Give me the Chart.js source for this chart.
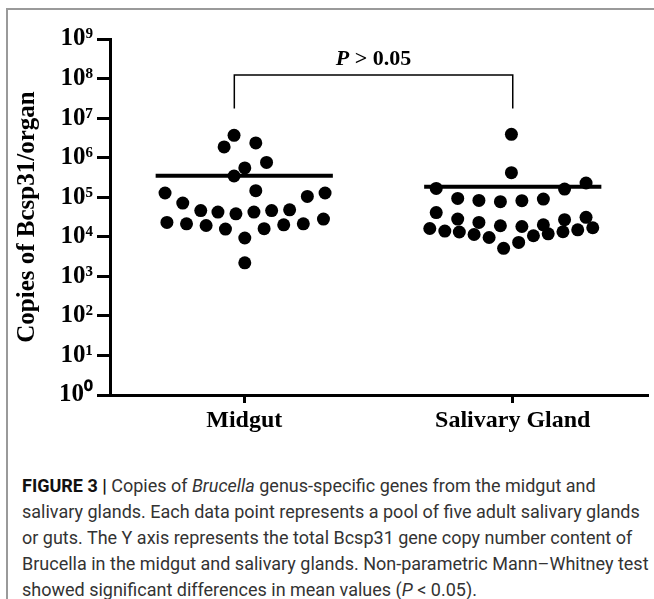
<!DOCTYPE html>
<html>
<head>
<meta charset="utf-8">
<script src="https://cdn.jsdelivr.net/npm/chart.js@4.4.1/dist/chart.umd.min.js"></script>
<style>
    html, body { margin: 0; padding: 0; background: #fff; }
    body { width: 654px; height: 599px; position: relative; overflow: hidden; }
    #frame {
        position: absolute; left: 6px; top: 8px; width: 700px; height: 700px;
        border-top: 2px solid #9a9a9a; border-left: 2px solid #9a9a9a;
    }
    #chartBox { position: absolute; left: 0; top: 0; width: 654px; height: 445px; }
    #caption {
        position: absolute; left: 22px; top: 473px; width: 630px;
        font-family: Roboto, 'Liberation Sans', sans-serif; font-size: 18px;
        line-height: 26px; color: #333; white-space: nowrap;
    }
    #caption b { font-weight: 700; color: #111; }
</style>
</head>
<body>
<div id="frame"></div>
<div id="chartBox"><canvas id="dotChart" width="654" height="445"></canvas></div>
<div id="caption">
    <b>FIGURE 3 |</b> Copies of <i>Brucella</i> genus-specific genes from the midgut and<br>
    salivary glands. Each data point represents a pool of five adult salivary glands<br>
    or guts. The Y axis represents the total Bcsp31 gene copy number content of<br>
    Brucella in the midgut and salivary glands. Non-parametric Mann–Whitney test<br>
    showed significant differences in mean values (<i>P</i> &lt; 0.05).
</div>
<script>
// groups on the x axis
var categories = ['Midgut', 'Salivary Gland'];
var yTickValues = [1, 1e1, 1e2, 1e3, 1e4, 1e5, 1e6, 1e7, 1e8, 1e9];

// midgut pools: horizontal spread (in category units) and copies
var midgutX = [-0.038, -0.075, 0.043, 0.083, 0.002, -0.038, 0.043, -0.295, -0.229, -0.162,
    -0.098, -0.031, 0.036, 0.102, 0.169, 0.235, 0.301, -0.288, -0.215, -0.142,
    -0.070, 0.002, 0.074, 0.147, 0.220, 0.295, 0.002];
var midgutY = [3.67e6, 1.87e6, 2.36e6, 7.6e5, 5.5e5, 3.44e5, 1.46e5, 1.28e5, 7.1e4, 4.6e4,
    4.2e4, 3.8e4, 4.2e4, 4.6e4, 4.8e4, 1.05e5, 1.28e5, 2.3e4, 2.13e4, 1.93e4,
    1.57e4, 9.3e3, 1.6e4, 2.0e4, 2.13e4, 2.8e4, 2.2e3];

// salivary gland pools
var salivaryX = [-0.005, -0.005, -0.285, 0.193, 0.273, -0.205, -0.126, -0.046, 0.034, 0.114,
    -0.285, -0.205, -0.126, -0.046, 0.034, 0.114, 0.193, 0.273, -0.309, -0.253,
    -0.199, -0.144, -0.088, -0.034, 0.022, 0.077, 0.132, 0.187, 0.242, 0.298];
var salivaryY = [3.89e6, 4.17e5, 1.67e5, 1.61e5, 2.29e5, 9.3e4, 8.3e4, 7.7e4, 8.2e4, 9.0e4,
    4.1e4, 2.8e4, 2.3e4, 1.9e4, 1.82e4, 2.0e4, 2.7e4, 3.1e4, 1.62e4, 1.39e4,
    1.32e4, 1.14e4, 9.6e3, 5.1e3, 7.2e3, 1.06e4, 1.19e4, 1.34e4, 1.5e4, 1.69e4];

// mean of each group and the half width of its mean bar
var meanValues = [3.5e5, 1.85e5];
var meanHalfWidth = 0.33;

// significance bracket
var bracketX = [-0.037, 1.0];
var bracketTop = 1.23e8;
var bracketBottom = 1.74e7;
var pValueLabel = ['P', ' > 0.05'];

var superDigits = '⁰¹²³⁴⁵⁶⁷⁸⁹';
var serif = "'Liberation Serif', 'Times New Roman', serif";

Chart.defaults.font.family = serif;
Chart.defaults.color = '#000';

function toPoints(offsets, values, center) {
    return values.map(function (v, i) { return { x: center + offsets[i], y: v }; });
}

var bracketPlugin = {
    id: 'bracket',
    afterDatasetsDraw: function (chart) {
        var ctx = chart.ctx;
        var xs = chart.scales.x, ys = chart.scales.y;
        var x1 = xs.getPixelForValue(bracketX[0]);
        var x2 = xs.getPixelForValue(bracketX[1]);
        var yTop = ys.getPixelForValue(bracketTop);
        var yBot = ys.getPixelForValue(bracketBottom);
        ctx.save();
        ctx.strokeStyle = '#000';
        ctx.lineWidth = 1.5;
        ctx.beginPath();
        ctx.moveTo(x1, yBot);
        ctx.lineTo(x1, yTop);
        ctx.lineTo(x2, yTop);
        ctx.lineTo(x2, yBot);
        ctx.stroke();

        ctx.fillStyle = '#000';
        ctx.textBaseline = 'alphabetic';
        ctx.font = 'italic bold 22px ' + serif;
        var w1 = ctx.measureText(pValueLabel[0]).width;
        ctx.font = 'bold 22px ' + serif;
        var w2 = ctx.measureText(pValueLabel[1]).width;
        var start = (x1 + x2) / 2 - (w1 + w2) / 2;
        ctx.font = 'italic bold 22px ' + serif;
        ctx.fillText(pValueLabel[0], start, yTop - 10);
        ctx.font = 'bold 22px ' + serif;
        ctx.fillText(pValueLabel[1], start + w1, yTop - 10);
        ctx.restore();
    }
};

var ctx = document.getElementById('dotChart');
var dotChart = new Chart(ctx, {
    type: 'scatter',
    data: {
        datasets: [{
            label: categories[0],
            data: toPoints(midgutX, midgutY, 0),
            backgroundColor: '#000',
            borderWidth: 0,
            pointRadius: 6.5,
            pointHoverRadius: 6.5
        }, {
            label: categories[1],
            data: toPoints(salivaryX, salivaryY, 1),
            backgroundColor: '#000',
            borderWidth: 0,
            pointRadius: 6.5,
            pointHoverRadius: 6.5
        }, {
            type: 'line',
            label: 'Mean ' + categories[0],
            data: [{ x: -meanHalfWidth, y: meanValues[0] }, { x: meanHalfWidth, y: meanValues[0] }],
            borderColor: '#000',
            borderWidth: 4,
            pointRadius: 0
        }, {
            type: 'line',
            label: 'Mean ' + categories[1],
            data: [{ x: 1 - meanHalfWidth, y: meanValues[1] }, { x: 1 + meanHalfWidth, y: meanValues[1] }],
            borderColor: '#000',
            borderWidth: 4,
            pointRadius: 0
        }]
    },
    options: {
        responsive: false,
        animation: false,
        devicePixelRatio: 1,
        layout: {
            padding: { top: 39, right: 7, left: 0, bottom: 0 }
        },
        plugins: {
            legend: { display: false },
            tooltip: { enabled: false }
        },
        scales: {
            x: {
                type: 'linear',
                min: -0.5,
                max: 1.5,
                afterBuildTicks: function (scale) {
                    scale.ticks = categories.map(function (c, i) { return { value: i }; });
                },
                afterFit: function (scale) { scale.height = 50; },
                ticks: {
                    callback: function (value) { return categories[value]; },
                    font: { size: 24, weight: 'bold' },
                    color: '#000',
                    padding: 3,
                    maxRotation: 0
                },
                grid: {
                    drawOnChartArea: false,
                    color: '#000',
                    lineWidth: 3,
                    tickLength: 8
                },
                border: { display: true, color: '#000', width: 3 }
            },
            y: {
                type: 'logarithmic',
                min: 1,
                max: 1e9,
                afterBuildTicks: function (scale) {
                    scale.ticks = yTickValues.map(function (v) { return { value: v }; });
                },
                afterFit: function (scale) { scale.width = 110; },
                ticks: {
                    callback: function (value) {
                        var e = Math.round(Math.log10(value));
                        return '10' + superDigits[e];
                    },
                    font: { size: 25, weight: 'bold' },
                    color: '#000',
                    padding: 4
                },
                grid: {
                    drawOnChartArea: false,
                    color: '#000',
                    lineWidth: 3,
                    tickLength: 13
                },
                border: { display: true, color: '#000', width: 3 },
                title: {
                    display: true,
                    text: 'Copies of Bcsp31/organ',
                    font: { size: 25, weight: 'bold' },
                    color: '#000',
                    padding: { top: 13, bottom: 0 }
                }
            }
        }
    },
    plugins: [bracketPlugin]
});
</script>
</body>
</html>
